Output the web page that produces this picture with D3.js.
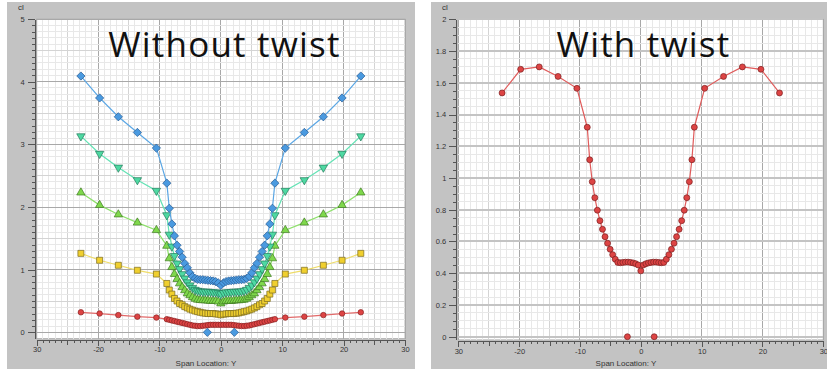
<!DOCTYPE html>
<html>
<head>
<meta charset="utf-8">
<script src="https://cdn.jsdelivr.net/npm/d3@7"></script>
<style>
  html, body { margin: 0; padding: 0; background: #fff; }
  svg { display: block; }
</style>
</head>
<body>
<div id="chart"></div>
<script>
// span stations (shared by every series)
const spanY = [-22.8, -19.75, -16.7, -13.6, -10.5, -8.8, -8.4, -7.98, -7.56, -7.14, -6.72, -6.3, -5.88, -5.46, -5.04, -4.62, -4.2, -3.78, -3.36, -2.94, -2.52, -2.1, -1.68, -1.26, -0.84, -0.42,
  0,
  0.42, 0.84, 1.26, 1.68, 2.1, 2.52, 2.94, 3.36, 3.78, 4.2, 4.62, 5.04, 5.46, 5.88, 6.3, 6.72, 7.14, 7.56, 7.98, 8.4, 8.8, 10.5, 13.6, 16.7, 19.75, 22.8];

// "Without twist" series
const clDiamond = [4.09, 3.74, 3.44, 3.19, 2.94, 2.38, 1.98, 1.73, 1.54, 1.39, 1.29, 1.20, 1.10, 1.03, 0.95, 0.89, 0.86, 0.845, 0.84, 0.84, 0.835, 0.83, 0.825, 0.82, 0.81, 0.79,
  0.75,
  0.79, 0.81, 0.82, 0.825, 0.83, 0.835, 0.84, 0.84, 0.845, 0.86, 0.89, 0.95, 1.03, 1.10, 1.20, 1.29, 1.39, 1.54, 1.73, 1.98, 2.38, 2.94, 3.19, 3.44, 3.74, 4.09];
const clTriDown = [3.13, 2.85, 2.63, 2.43, 2.26, 1.87, 1.56, 1.37, 1.22, 1.10, 1.01, 0.93, 0.86, 0.80, 0.75, 0.71, 0.68, 0.665, 0.655, 0.65, 0.65, 0.65, 0.645, 0.64, 0.64, 0.63,
  0.61,
  0.63, 0.64, 0.64, 0.645, 0.65, 0.65, 0.65, 0.655, 0.665, 0.68, 0.71, 0.75, 0.80, 0.86, 0.93, 1.01, 1.10, 1.22, 1.37, 1.56, 1.87, 2.26, 2.43, 2.63, 2.85, 3.13];
const clTriUp = [2.23, 2.03, 1.88, 1.75, 1.63, 1.38, 1.18, 1.04, 0.93, 0.85, 0.78, 0.72, 0.67, 0.62, 0.59, 0.56, 0.535, 0.52, 0.515, 0.51, 0.51, 0.505, 0.50, 0.50, 0.50, 0.49,
  0.46,
  0.49, 0.50, 0.50, 0.50, 0.505, 0.51, 0.51, 0.515, 0.52, 0.535, 0.56, 0.59, 0.62, 0.67, 0.72, 0.78, 0.85, 0.93, 1.04, 1.18, 1.38, 1.63, 1.75, 1.88, 2.03, 2.23];
const clSquare = [1.26, 1.15, 1.07, 0.99, 0.93, 0.78, 0.675, 0.61, 0.54, 0.50, 0.46, 0.44, 0.41, 0.39, 0.37, 0.355, 0.34, 0.33, 0.32, 0.31, 0.305, 0.30, 0.30, 0.30, 0.295, 0.29,
  0.28,
  0.29, 0.295, 0.30, 0.30, 0.30, 0.305, 0.31, 0.32, 0.33, 0.34, 0.355, 0.37, 0.39, 0.41, 0.44, 0.46, 0.50, 0.54, 0.61, 0.675, 0.78, 0.93, 0.99, 1.07, 1.15, 1.26];
const clCircle = [0.32, 0.30, 0.275, 0.25, 0.235, 0.21, 0.20, 0.19, 0.18, 0.17, 0.16, 0.15, 0.14, 0.13, 0.12, 0.11, 0.105, 0.10, 0.10, 0.105, 0.11, 0.115, 0.12, 0.12, 0.12, 0.12,
  0.12,
  0.12, 0.12, 0.12, 0.12, 0.115, 0.11, 0.105, 0.10, 0.10, 0.105, 0.11, 0.12, 0.13, 0.14, 0.15, 0.16, 0.17, 0.18, 0.19, 0.20, 0.21, 0.235, 0.25, 0.275, 0.30, 0.32];

// "With twist" series
const clTwist = [1.536, 1.685, 1.70, 1.64, 1.565, 1.32, 1.115, 0.977, 0.876, 0.797, 0.731, 0.677, 0.63, 0.589, 0.551, 0.517, 0.488, 0.468, 0.466, 0.468, 0.47, 0.47, 0.468, 0.465, 0.46, 0.452,
  0.415,
  0.452, 0.46, 0.465, 0.468, 0.47, 0.47, 0.468, 0.466, 0.468, 0.488, 0.517, 0.551, 0.589, 0.63, 0.677, 0.731, 0.797, 0.876, 0.977, 1.115, 1.32, 1.565, 1.64, 1.70, 1.685, 1.536];

// stray points lying on cl = 0
const zeroSpan = [-2.2, 2.2];
const zeroCl = [0, 0];

// tick labels
const xTicks = [-30, -20, -10, 0, 10, 20, 30];
const xTickLabels = ['30', '-20', '-10', '0', '10', '20', '30'];
const leftYTicks = [0, 1, 2, 3, 4, 5];
const leftYLabels = ['0', '1', '2', '3', '4', '5'];
const rightYTicks = [0, 0.2, 0.4, 0.6, 0.8, 1, 1.2, 1.4, 1.6, 1.8, 2];
const rightYLabels = ['0', '0.2', '0.4', '0.6', '0.8', '1', '1.2', '1.4', '1.6', '1.8', '2'];

const svg = d3.select('#chart').append('svg')
  .attr('width', 827)
  .attr('height', 370);

const pts = vals => spanY.map((s, i) => [s, vals[i]]);

function steps(a, b, st) {
  const out = [];
  for (let v = a; v <= b + 1e-9; v += st) out.push(+v.toFixed(4));
  return out;
}

function drawPanel(cfg) {
  const g = svg.append('g');

  // gray window
  g.append('rect')
    .attr('x', cfg.panelX).attr('y', 2)
    .attr('width', cfg.panelW).attr('height', 367)
    .attr('fill', '#c3c3c3');

  const x = d3.scaleLinear().domain([-30, 30]).range([cfg.left, cfg.right]);
  const y = d3.scaleLinear().domain(cfg.yDomain).range([cfg.bottom, cfg.top]);

  // white plot area
  g.append('rect')
    .attr('x', cfg.left).attr('y', cfg.top)
    .attr('width', cfg.right - cfg.left).attr('height', cfg.bottom - cfg.top)
    .attr('fill', '#fff')
    .attr('stroke', '#b4b4b4')
    .attr('stroke-width', 1);

  const grid = g.append('g').attr('shape-rendering', 'crispEdges');

  // vertical grid: 1 / 5 / 10
  steps(-30, 30, 1).forEach(v => {
    const major = Math.abs(v % 10) < 1e-6, mid = Math.abs(v % 5) < 1e-6;
    grid.append('line')
      .attr('x1', x(v)).attr('x2', x(v))
      .attr('y1', cfg.top).attr('y2', cfg.bottom)
      .attr('stroke', major ? '#a8a8a8' : mid ? '#d4d4d4' : '#e8e8e8')
      .attr('stroke-width', 1);
  });

  // horizontal grid
  steps(0, cfg.yDomain[1], cfg.yMinor).forEach(v => {
    const major = Math.abs(v / cfg.yMajor - Math.round(v / cfg.yMajor)) < 1e-6;
    const mid = cfg.yMid && Math.abs(v / cfg.yMid - Math.round(v / cfg.yMid)) < 1e-6;
    grid.append('line')
      .attr('x1', cfg.left).attr('x2', cfg.right)
      .attr('y1', y(v)).attr('y2', y(v))
      .attr('stroke', major ? cfg.yMajorColor : mid ? '#d4d4d4' : '#e8e8e8')
      .attr('stroke-width', major ? cfg.yMajorWidth : 1);
  });

  // y axis
  const yAxisX = cfg.left - 2;
  g.append('g')
    .attr('transform', `translate(${yAxisX},0)`)
    .call(d3.axisLeft(y).tickValues(steps(0, cfg.yDomain[1], cfg.yTickMinor)).tickSize(3).tickSizeOuter(0).tickFormat(''));
  g.append('g')
    .attr('transform', `translate(${yAxisX},0)`)
    .call(d3.axisLeft(y).tickValues(cfg.yTicks).tickSize(7).tickSizeOuter(0).tickPadding(3)
      .tickFormat((d, i) => cfg.yLabels[i]));

  // x axis
  const xAxisY = cfg.bottom + 1.5;
  g.append('g')
    .attr('transform', `translate(0,${xAxisY})`)
    .call(d3.axisBottom(x).tickValues(steps(-30, 30, 1)).tickSize(3).tickSizeOuter(0).tickFormat(''));
  g.append('g')
    .attr('transform', `translate(0,${xAxisY})`)
    .call(d3.axisBottom(x).tickValues(steps(-25, 25, 10)).tickSize(5).tickSizeOuter(0).tickFormat(''));
  g.append('g')
    .attr('transform', `translate(0,${xAxisY})`)
    .call(d3.axisBottom(x).tickValues(xTicks).tickSize(6).tickSizeOuter(0).tickPadding(1)
      .tickFormat((d, i) => xTickLabels[i]));

  g.selectAll('.domain, .tick line').attr('stroke', '#555').attr('shape-rendering', 'crispEdges');
  g.selectAll('.tick text')
    .style('font-family', '"Liberation Sans", Arial, sans-serif')
    .style('font-size', '7.5px')
    .attr('fill', '#333');

  // axis names
  g.append('text')
    .attr('x', cfg.panelX + 11).attr('y', 10)
    .style('font-family', '"Liberation Sans", Arial, sans-serif')
    .style('font-size', '8px')
    .attr('fill', '#333')
    .text('cl');
  g.append('text')
    .attr('x', cfg.xTitleX).attr('y', 366)
    .attr('text-anchor', 'middle')
    .style('font-family', '"Liberation Sans", Arial, sans-serif')
    .style('font-size', '8px')
    .attr('fill', '#333')
    .text('Span Location: Y');

  // big title
  g.append('text')
    .attr('x', cfg.titleX).attr('y', 57)
    .attr('text-anchor', 'middle')
    .style('font-family', '"Open Sans", "Noto Sans", sans-serif')
    .style('font-size', '35px')
    .style('letter-spacing', '1.2px')
    .attr('fill', '#111')
    .text(cfg.title);

  // series
  const line = d3.line().x(d => x(d[0])).y(d => y(d[1]));
  cfg.series.forEach(s => {
    const data = pts(s.values);
    g.append('path')
      .datum(data)
      .attr('d', line)
      .attr('fill', 'none')
      .attr('stroke', s.line)
      .attr('stroke-width', 1.2);
    g.selectAll(null)
      .data(data)
      .enter()
      .append('path')
      .attr('d', d3.symbol().type(s.symbol).size(s.size))
      .attr('transform', d => `translate(${x(d[0])},${y(d[1])}) rotate(${s.rotate || 0})`)
      .attr('fill', s.fill)
      .attr('stroke', s.stroke)
      .attr('stroke-width', 0.7);
  });

  // lone points at cl = 0
  const z = cfg.zero;
  g.selectAll(null)
    .data(zeroSpan.map((s, i) => [s, zeroCl[i]]))
    .enter()
    .append('path')
    .attr('d', d3.symbol().type(z.symbol).size(z.size))
    .attr('transform', d => `translate(${x(d[0])},${y(d[1])}) rotate(${z.rotate || 0})`)
    .attr('fill', z.fill)
    .attr('stroke', z.stroke)
    .attr('stroke-width', 0.7);
}

const blue = { values: clDiamond, symbol: d3.symbolSquare, size: 34, rotate: 45, fill: '#4a9ae0', stroke: '#2b5f96', line: '#5aa6e4' };

drawPanel({
  panelX: 7, panelW: 408,
  left: 36.7, right: 405, top: 19, bottom: 338.6,
  yDomain: [-0.1, 5],
  yMinor: 0.1, yMid: 0.5, yMajor: 1, yMajorColor: '#a8a8a8', yMajorWidth: 1,
  yTickMinor: 0.1,
  yTicks: leftYTicks, yLabels: leftYLabels,
  title: 'Without twist', titleX: 224.5, xTitleX: 206,
  series: [
    { values: clCircle, symbol: d3.symbolCircle, size: 24, fill: '#dd4444', stroke: '#8a2222', line: '#e26a6a' },
    { values: clSquare, symbol: d3.symbolSquare, size: 36, fill: '#f0cf2e', stroke: '#7a6a20', line: '#eedc6a' },
    { values: clTriUp, symbol: d3.symbolTriangle, size: 30, fill: '#7fd84c', stroke: '#3f7a22', line: '#8ee06c' },
    { values: clTriDown, symbol: d3.symbolTriangle, size: 30, rotate: 180, fill: '#4ed9a2', stroke: '#227a5a', line: '#62e2b4' },
    blue
  ],
  zero: blue
});

drawPanel({
  panelX: 431, panelW: 396,
  left: 458.3, right: 823.3, top: 19.3, bottom: 339.9,
  yDomain: [-0.02, 2],
  yMinor: 0.05, yMid: null, yMajor: 0.2, yMajorColor: '#c4c4c4', yMajorWidth: 2,
  yTickMinor: 0.05,
  yTicks: rightYTicks, yLabels: rightYLabels,
  title: 'With twist', titleX: 643.5, xTitleX: 626,
  series: [
    { values: clTwist, symbol: d3.symbolCircle, size: 28, fill: '#dd4444', stroke: '#7a2020', line: '#e05c5c' }
  ],
  zero: { symbol: d3.symbolCircle, size: 28, fill: '#dd4444', stroke: '#7a2020' }
});
</script>
</body>
</html>
